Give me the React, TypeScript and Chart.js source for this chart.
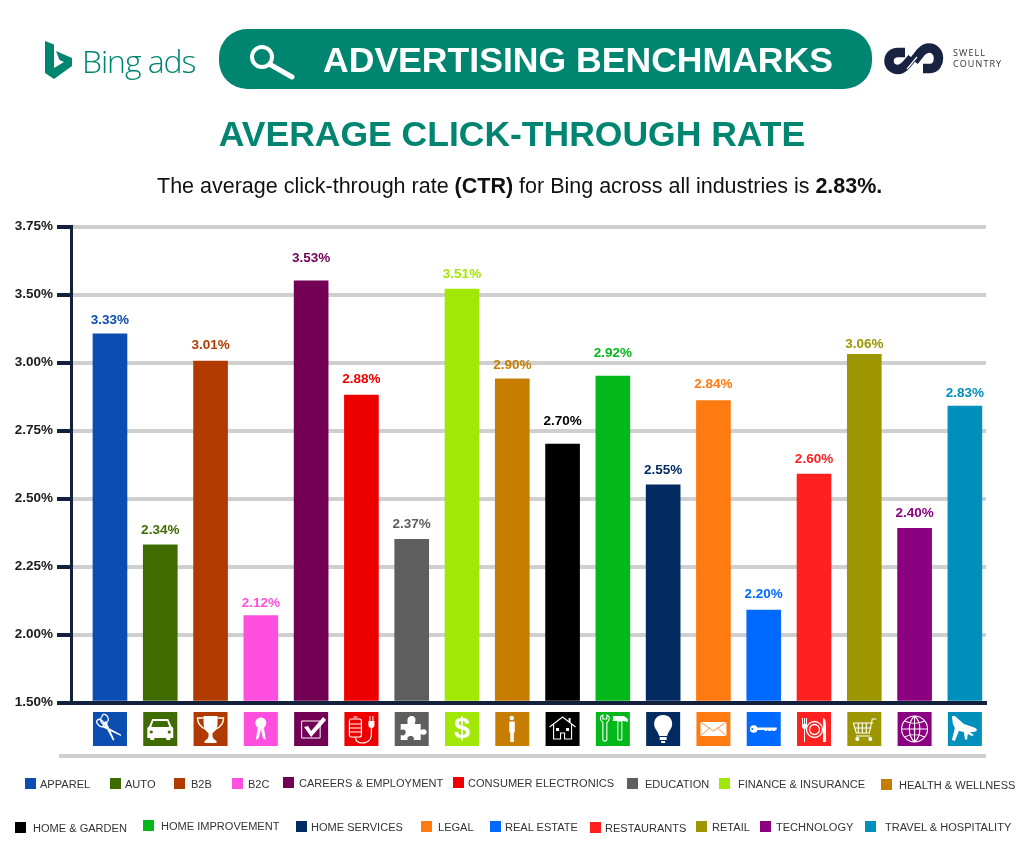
import React, { useEffect, useRef } from "react";
import { Chart, registerables } from "chart.js";

Chart.register(...registerables);

// ---------- data ----------
const categories = [
  "APPAREL", "AUTO", "B2B", "B2C", "CAREERS & EMPLOYMENT", "CONSUMER ELECTRONICS",
  "EDUCATION", "FINANCE & INSURANCE", "HEALTH & WELLNESS", "HOME & GARDEN",
  "HOME IMPROVEMENT", "HOME SERVICES", "LEGAL", "REAL ESTATE", "RESTAURANTS",
  "RETAIL", "TECHNOLOGY", "TRAVEL & HOSPITALITY",
];
const printedLabels = [
  "3.33%", "2.34%", "3.01%", "2.12%", "3.53%", "2.88%", "2.37%", "3.51%", "2.90%",
  "2.70%", "2.92%", "2.55%", "2.84%", "2.20%", "2.60%", "3.06%", "2.40%", "2.83%",
];
// Bar heights as read against the printed axis.
const barReadings = [
  3.21, 2.33, 3.01, 2.07, 3.55, 2.88, 2.35, 3.52, 2.94,
  2.70, 2.95, 2.55, 2.86, 2.09, 2.59, 3.06, 2.39, 2.84,
];
const axisTicks = [1.5, 2.0, 2.25, 2.5, 2.75, 3.0, 3.5, 3.75];
const colors = [
  "#0B4DB0", "#3F6C00", "#B13A00", "#FF4FE0", "#720054", "#EE0000", "#5E5E5E", "#A2E807", "#C67D00",
  "#000000", "#04B71B", "#022B62", "#FF7A10", "#0069FF", "#FF2020", "#9E9600", "#8A0080", "#0090BB",
];

// ---------- layout ----------
const TEAL = "#008571";
const NAVY = "#14213D";
const labelGaps = [14, 14, 16, 12, 23, 16, 15, 15, 14, 23, 23, 15, 16, 16, 15, 10, 15, 13];
const legendLayout: [number, number, number][] = [
  [25, 40, 784], [110, 125, 784], [174, 191, 784], [232, 248, 784], [283, 299, 783], [453, 468, 783],
  [627, 645, 784], [719, 738, 784], [881, 899, 785], [15, 33, 828], [143, 161, 826], [296, 311, 827],
  [421, 438, 827], [490, 505, 827], [590, 605, 828], [696, 712, 827], [760, 776, 827], [865, 885, 827],
];

// Piecewise placement of a reading on the evenly spaced, unevenly labelled axis.
function axisPosition(v: number) {
  for (let i = 0; i < axisTicks.length - 1; i++) {
    if (v <= axisTicks[i + 1]) return i + (v - axisTicks[i]) / (axisTicks[i + 1] - axisTicks[i]);
  }
  return axisTicks.length - 1;
}

// ---------- icon glyphs (34 x 34 box): [op, path, stroke width] ----------
type Op = [string, string, number?];
const ring = (cx: number, cy: number, r: number) => `M${cx - r} ${cy}a${r} ${r} 0 1 0 ${2 * r} 0a${r} ${r} 0 1 0 ${-2 * r} 0`;
const icons: Op[][] = [
  [["s", "M4.5 8a4.2 2.8 45 1 0 6 6a4.2 2.8 45 1 0-6-6M9 5a2.8 4.2 -30 1 0 5 5a2.8 4.2 -30 1 0-5-5", 1.3], ["f", "M10 13l18 9.5 0 1.5-19-9zM13 9l8.5 19-1.5.5-9.5-18z"]],
  [["f", "M9 7h16l3 7 2 2v10h-3v2h-4v-2H11v2H7v-2H4V16l2-2z"], ["b", "M10 9h14l2 6H8z"], ["b", ring(8, 20, 1.6)], ["b", ring(26, 20, 1.6)]],
  [["f", "M10 4h14v7c0 6-3 9-5 10v3c0 2 2 4 4 5v2H11v-2c2-1 4-3 4-5v-3c-2-1-5-4-5-10z"], ["s", "M10 6H4c0 6 3 9 8 11M24 6h6c0 6-3 9-8 11", 1.4]],
  [["f", ring(17, 11, 5.5)], ["f", "M14 15L12 28l3-2 2-9 2 9 3 2-2-13z"]],
  [["s", "M7.5 9h18.5v17H7.5z", 1], ["f", "M10 15l4-1 3 5L29 5l3 3-15 17z"]],
  [["s", "M7 7h8c1 0 2 1 2 2v14c0 1-1 2-2 2H7c-1 0-2-1-2-2V9c0-1 1-2 2-2zM5 12h12M5 16h12M5 20h12M9 5h4", 1.2], ["s", "M11 25c0 4 3 6 7 6 6 0 9-4 9-9v-6", 1.2], ["f", "M24 9h6v4c0 2-1 3-3 3s-3-1-3-3zM25 4h1v5h-1zM28 4h1v5h-1z"]],
  [["f", "M6 12h7c-1-6 1-8 4-8s5 2 3 8h6v6c4-2 6 0 6 2s-2 4-6 2v6h-7c1-3-1-4-3-4s-4 1-3 4H6v-5c3 1 5 0 5-3s-3-3-5-2z"]],
  [["t", "$"]],
  [["f", ring(16.5, 6, 2.3)], ["f", "M14 9.5h5.5v11h-1v9.5h-3.5V20.5h-1z"]],
  [["s", "M4 15L17 5l13 10M8 12v15h7v-6h4v6h7V12", 1.1], ["f", "M10.5 16h3v3h-3zM20.5 16h3v3h-3zM23 6h2v4h-2z"]],
  [["s", "M7 3c-2 1-3 3-2 5s2 2 2 3v16c0 3 4 3 4 0V11c0-1 2-2 2-3 1-2 0-4-2-5v4H7z", 1.1], ["s", "M22 9h4v19h-4z", 1], ["f", "M17 4h11l4 3v3l-4-1H17z"]],
  [["f", "M17 3c6 0 9 4 9 9 0 5-4 7-5 12h-8c-1-5-5-7-5-12 0-5 3-9 9-9z"], ["f", "M13.5 25h7v3h-7zM15 29h4v2h-4z"]],
  [["f", "M4 10h26v14H4z"], ["c", "M4 10l13 9 13-9M4 24l9-8M30 24l-9-8", 0.8]],
  [["f", ring(7, 17, 3.8)], ["f", "M9 15.5h21v2l-2 1.5h-2l-1-1-1 1h-2l-1-1-1 1h-2v-1H9z"], ["b", ring(5.5, 17, 1)]],
  [["s", ring(17.5, 17.5, 8), 1.3], ["s", ring(17.5, 17.5, 5), 1.3], ["f", "M5 6h1v6h1V6h1v6h1V6h1v8c0 2-1 3-2 3v13H7V17c-1 0-2-1-2-3zM26 6c2 0 3 3 3 9v15h-3z"]],
  [["s", "M6 11h20M29 7h-4l-3 14H9L6 11M7 16h17M11 11v10M15 11v10M19 11v10M9 24h14", 1.1], ["f", ring(10, 27, 2)], ["f", ring(23, 27, 2)]],
  [["s", ring(17, 17, 13) + "M4 17h26M17 4v26M7 9c6 3 14 3 20 0M7 25c6-3 14-3 20 0M17 4c-7 6-7 20 0 26M17 4c7 6 7 20 0 26", 1.1]],
  [["f", "M4 4h3l9 8 9 3c3 1 4 2 4 3s-2 2-4 2h-3l4 3-2 1-4-2-1 6-2-1-1-7-5-1-4 10-3-1 3-12-2-4z"]],
];

const iconRowPlugin = {
  id: "iconRow",
  afterDraw(chart: any) {
    const ctx: CanvasRenderingContext2D = chart.ctx;
    const { x, y } = chart.scales;
    ctx.save();
    // value labels
    ctx.font = 'bold 13.5px "Liberation Sans", Arial, sans-serif';
    ctx.textAlign = "center";
    ctx.textBaseline = "middle";
    const meta = chart.getDatasetMeta(0);
    printedLabels.forEach((t, i) => {
      ctx.fillStyle = colors[i];
      ctx.fillText(t, meta.data[i].x, meta.data[i].y - labelGaps[i]);
    });
    // lower rule
    ctx.fillStyle = "#CFCFCF";
    ctx.fillRect(59, 754, chart.chartArea.right - 59, 4);
    // icon squares
    categories.forEach((_, i) => {
      const px = x.getPixelForValue(i) - 17;
      const py = y.bottom + 9.5;
      ctx.save();
      ctx.translate(px, py);
      ctx.fillStyle = colors[i];
      ctx.fillRect(0, 0, 34, 34);
      icons[i].forEach(([op, d, w]) => {
        if (op === "t") {
          ctx.fillStyle = "#fff";
          ctx.font = 'bold 29px "Liberation Sans", sans-serif';
          ctx.fillText(d, 17, 18);
          return;
        }
        const p = new Path2D(d);
        if (op === "f") { ctx.fillStyle = "#fff"; ctx.fill(p); }
        if (op === "b") { ctx.fillStyle = colors[i]; ctx.fill(p); }
        if (op === "s" || op === "c") {
          ctx.strokeStyle = op === "s" ? "#fff" : colors[i];
          ctx.lineWidth = w ?? 1;
          ctx.stroke(p);
        }
      });
      ctx.restore();
    });
    ctx.restore();
  },
};

const abs = (left: number, top: number, extra: React.CSSProperties = {}): React.CSSProperties => ({
  position: "absolute", left, top, whiteSpace: "nowrap", ...extra,
});
const SANS = '"Liberation Sans", Arial, sans-serif';

export default function App() {
  const ref = useRef<HTMLCanvasElement>(null);
  useEffect(() => {
    document.body.style.margin = "0";
    const chart = new Chart(ref.current!, {
      type: "bar",
      data: {
        labels: categories,
        datasets: [{
          data: barReadings.map((v, i) => ({ x: i, y: axisPosition(v) })),
          backgroundColor: colors,
          barThickness: 34,
        }],
      },
      options: {
        responsive: false,
        animation: false,
        layout: { padding: { left: 0, right: 38, top: 226.5, bottom: 150.5 } },
        plugins: { legend: { display: false }, tooltip: { enabled: false }, title: { display: false } },
        scales: {
          x: {
            type: "linear",
            offset: false,
            min: -0.775,
            max: 17.42,
            afterFit: (s: any) => { s.height = 0; },
            ticks: { display: false },
            grid: { display: false, drawTicks: false, offset: false },
            border: { display: true, color: NAVY, width: 4, z: 2 },
          },
          y: {
            min: 0,
            max: axisTicks.length - 1,
            afterFit: (s: any) => { s.width = 71; },
            ticks: {
              stepSize: 1,
              padding: 4,
              color: "#1a1a1a",
              font: { family: "Liberation Sans", weight: "bold", size: 13.5 },
              callback: (v: any) => axisTicks[v].toFixed(2) + "%",
            },
            grid: { color: "#CFCFCF", lineWidth: 4, tickColor: NAVY, tickLength: 14, tickWidth: 4 },
            border: { display: true, color: NAVY, width: 3, z: 2 },
          },
        },
      } as any,
      plugins: [iconRowPlugin],
    });
    return () => chart.destroy();
  }, []);

  return (
    <div style={{ position: "relative", width: 1024, height: 853, overflow: "hidden", background: "#fff", fontFamily: SANS }}>
      <canvas ref={ref} width={1024} height={853} style={{ position: "absolute", left: 0, top: 0 }} />

      {/* Bing logo */}
      <svg style={abs(44, 40)} width="30" height="40" viewBox="0 0 30 40">
        <path d="M1 1l9 3.5V28l10-6-4.5-2L12 11l16 7v8L10 39l-9-6z" fill={TEAL} />
      </svg>
      <div style={abs(82, 40, { fontFamily: '"Open Sans", sans-serif', fontWeight: 300, fontSize: 32, letterSpacing: -1.1, lineHeight: "42px", color: TEAL })}>Bing ads</div>

      {/* Banner */}
      <div style={abs(219, 29, { width: 653, height: 60, borderRadius: 28, background: TEAL })} />
      <svg style={abs(248, 43)} width="50" height="38" viewBox="0 0 50 38">
        <circle cx="14" cy="14" r="10" fill="none" stroke="#fff" strokeWidth="4" />
        <path d="M23 22l21 12" stroke="#fff" strokeWidth="5" strokeLinecap="round" />
      </svg>
      <div style={abs(323, 38, { fontWeight: 700, fontSize: 35.6, lineHeight: "44px", color: "#fff" })}>ADVERTISING BENCHMARKS</div>

      {/* Swell Country logo */}
      <svg style={abs(883, 42)} width="64" height="34" viewBox="0 0 64 34" fill="none" stroke="#172341" strokeWidth="9.5">
        <path d="M22 10.5H15C9 10.5 6 14.5 6 19C6 24 10 27.5 15 27.5C19 27.5 21 25 23 23L29 16" />
        <path d="M40 26.5H47C53 26.5 55.5 21 55.5 16C55.5 10 51 6 46 6C42 6 40 8 38 10L31 19" />
        <path d="M24 27L34 15" stroke="#fff" strokeWidth="1.2" />
      </svg>
      <div style={abs(953, 46.5, { fontSize: 9, letterSpacing: 1.1, lineHeight: "11px", color: "#333", fontFamily: '"Open Sans", sans-serif' })}>SWELL<br />COUNTRY</div>

      {/* Titles */}
      <div style={abs(0, 112, { width: 1024, textAlign: "center", fontWeight: 700, fontSize: 35.5, lineHeight: "44px", color: TEAL })}>AVERAGE CLICK-THROUGH RATE</div>
      <div style={abs(157, 174, { fontSize: 21.5, lineHeight: "24px", color: "#111" })}>
        The average click-through rate <b>(CTR)</b> for Bing across all industries is <b>2.83%.</b>
      </div>

      {/* Legend */}
      {categories.map((c, i) => {
        const [sx, tx, cy] = legendLayout[i];
        return (
          <React.Fragment key={c}>
            <div style={abs(sx, cy - 6, { width: 11, height: 11, background: colors[i] })} />
            <div style={abs(tx, cy - 7, { fontSize: 11.05, lineHeight: "14px", color: "#333" })}>{c}</div>
          </React.Fragment>
        );
      })}
    </div>
  );
}
